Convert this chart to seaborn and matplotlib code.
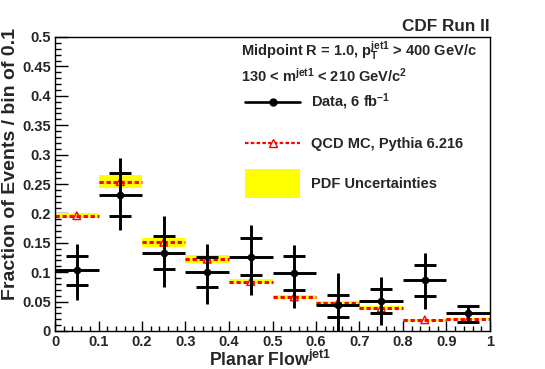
import numpy as np
import pandas as pd
import matplotlib
matplotlib.use("Agg")
import matplotlib.pyplot as plt
import seaborn as sns
from matplotlib.ticker import MultipleLocator, FixedLocator, FixedFormatter

# ---- data ----
bin_edges = [0.0, 0.1, 0.2, 0.3, 0.4, 0.5, 0.6, 0.7, 0.8, 0.9, 1.0]
data_val = [0.104, 0.231, 0.133, 0.100, 0.126, 0.098, 0.044, 0.051, 0.086, 0.030]
stat_hi = [0.128, 0.268, 0.162, 0.126, 0.159, 0.128, 0.062, 0.071, 0.112, 0.043]
stat_lo = [0.078, 0.196, 0.105, 0.074, 0.096, 0.070, 0.023, 0.030, 0.060, 0.016]
tot_hi = [0.148, 0.294, 0.196, 0.148, 0.181, 0.146, 0.098, 0.091, 0.132, 0.043]
tot_lo = [0.052, 0.172, 0.075, 0.046, 0.061, 0.039, -0.010, 0.010, 0.037, 0.016]
mc_val = [0.196, 0.254, 0.151, 0.122, 0.084, 0.058, 0.048, 0.039, 0.019, 0.020]
band_hi = [0.200, 0.265, 0.158, 0.129, 0.088, 0.061, 0.051, 0.042, 0.021, 0.022]
band_lo = [0.192, 0.244, 0.143, 0.115, 0.081, 0.055, 0.045, 0.036, 0.017, 0.018]

x_ticks = [0, 0.1, 0.2, 0.3, 0.4, 0.5, 0.6, 0.7, 0.8, 0.9, 1.0]
x_ticklabels = ["0", "0.1", "0.2", "0.3", "0.4", "0.5", "0.6", "0.7", "0.8", "0.9", "1"]
y_ticks = [0, 0.05, 0.1, 0.15, 0.2, 0.25, 0.3, 0.35, 0.4, 0.45, 0.5]
y_ticklabels = ["0", "0.05", "0.1", "0.15", "0.2", "0.25", "0.3", "0.35", "0.4", "0.45", "0.5"]

sns.set_style("white")
plt.rcParams["font.family"] = ["Liberation Sans", "DejaVu Sans"]
plt.rcParams["font.weight"] = "bold"
plt.rcParams["mathtext.fontset"] = "custom"
plt.rcParams["mathtext.rm"] = "Liberation Sans:bold"
plt.rcParams["mathtext.bf"] = "Liberation Sans:bold"
plt.rcParams["mathtext.it"] = "Liberation Sans:bold"
plt.rcParams["mathtext.default"] = "bf"

lo_e = np.array(bin_edges[:-1])
hi_e = np.array(bin_edges[1:])
centers = (lo_e + hi_e) / 2
df = pd.DataFrame({"x": centers, "data": data_val, "mc": mc_val})

fig = plt.figure(figsize=(5.45, 3.69), dpi=100)
ax = fig.add_axes([55 / 545, 1 - 331 / 369, 435 / 545, 294 / 369])

# PDF band
for l, h, bl, bh in zip(lo_e, hi_e, band_lo, band_hi):
    ax.fill_between([l, h], [bl, bl], [bh, bh], color="#ffff00", lw=0, zorder=1)
# MC dashed line
ax.hlines(mc_val, lo_e, hi_e, colors="red", linestyles=(0, (1.4, 0.9)), lw=2.2, zorder=2)
sns.scatterplot(data=df, x="x", y="mc", marker="^", s=30, facecolor="none",
                edgecolor="red", linewidth=1.0, ax=ax, zorder=3, legend=False)

# Data
lw_d = 2.1
ax.hlines(data_val, lo_e, hi_e, colors="black", lw=lw_d, zorder=4)
ax.vlines(centers, tot_lo, tot_hi, colors="black", lw=lw_d, zorder=4)
ax.hlines(stat_hi, centers - 0.025, centers + 0.025, colors="black", lw=lw_d, zorder=4)
ax.hlines(stat_lo, centers - 0.025, centers + 0.025, colors="black", lw=lw_d, zorder=4)
sns.scatterplot(data=df, x="x", y="data", marker="o", s=30, color="black",
                edgecolor="black", linewidth=0, ax=ax, zorder=5, legend=False)

ax.set_xlim(0, 1)
ax.set_ylim(0, 0.5)
ax.xaxis.set_major_locator(FixedLocator(x_ticks))
ax.xaxis.set_major_formatter(FixedFormatter(x_ticklabels))
ax.yaxis.set_major_locator(FixedLocator(y_ticks))
ax.yaxis.set_major_formatter(FixedFormatter(y_ticklabels))
ax.xaxis.set_minor_locator(MultipleLocator(0.02))
ax.yaxis.set_minor_locator(MultipleLocator(0.01))
ax.tick_params(axis="both", which="both", direction="in", color="black", width=1,
               top=False, right=False, bottom=True, left=True)
ax.tick_params(axis="both", which="major", labelsize=10.5, pad=3)
ax.tick_params(axis="x", which="major", length=7)
ax.tick_params(axis="x", which="minor", length=3.5)
ax.tick_params(axis="y", which="major", length=9)
ax.tick_params(axis="y", which="minor", length=4.5)
for lab in ax.get_xticklabels() + ax.get_yticklabels():
    lab.set_fontweight("bold")
for s in ax.spines.values():
    s.set_color("black")
    s.set_linewidth(1.0)
ax.set_xlabel("")
ax.set_ylabel("")

fig.text(270 / 545, 1 - 366 / 369, r"Planar Flow$^{jet1}$", ha="center", va="baseline",
         fontsize=12.7, fontweight="bold")
fig.text(11 / 545, 1 - 28 / 369, "Fraction of Events / bin of 0.1", rotation=90,
         ha="center", va="top", fontsize=14, fontweight="bold")
fig.text(490 / 545, 1 - 31 / 369, "CDF Run II", ha="right", va="baseline",
         fontsize=12.3, fontweight="bold")

# legend (manual, axes fraction)
T = ax.transAxes
fs = 10.5
ax.text(0.428, 0.932, r"Midpoint R = 1.0, p$_{T}^{jet1}$ > 400 GeV/c", transform=T,
        ha="left", va="baseline", fontsize=fs, fontweight="bold")
ax.text(0.428, 0.847, r"130 < m$^{jet1}$ < 210 GeV/c$^{2}$", transform=T,
        ha="left", va="baseline", fontsize=fs, fontweight="bold")
ax.plot([0.437, 0.563], [0.780, 0.780], transform=T, color="black", lw=1.9)
ax.plot([0.5], [0.780], transform=T, marker="o", color="black", ms=5)
ax.text(0.589, 0.762, r"Data, 6 fb$^{-1}$", transform=T, ha="left", va="baseline",
        fontsize=fs, fontweight="bold")
ax.plot([0.437, 0.563], [0.639, 0.639], transform=T, color="red", lw=1.6,
        linestyle=(0, (1.6, 1.0)))
ax.plot([0.5], [0.639], transform=T, marker="^", mfc="white", mec="red", ms=5.5, mew=1)
ax.text(0.589, 0.622, "QCD MC, Pythia 6.216", transform=T, ha="left", va="baseline",
        fontsize=fs, fontweight="bold")
ax.add_patch(plt.Rectangle((0.437, 0.452), 0.126, 0.099, transform=T,
                           color="#ffff00", lw=0))
ax.text(0.589, 0.486, "PDF Uncertainties", transform=T, ha="left", va="baseline",
        fontsize=fs, fontweight="bold")

fig.savefig("out.png", dpi=100)
